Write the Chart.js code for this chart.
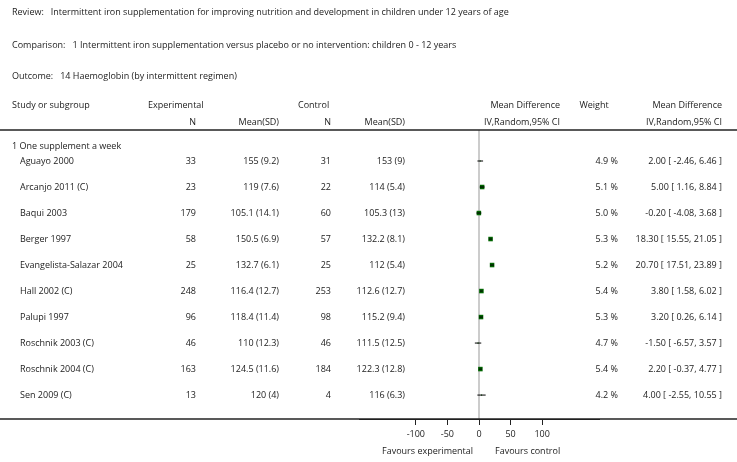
<!DOCTYPE html>
<html>
<head>
<meta charset="utf-8">
<script src="https://cdn.jsdelivr.net/npm/chart.js@4"></script>
<style>
  body { margin: 0; background: #fff; }
  #wrap { position: relative; width: 737px; height: 462px; }
</style>
</head>
<body>
<div id="wrap"><canvas id="forest" width="737" height="462"></canvas></div>
<script>
const studies = ['Aguayo 2000', 'Arcanjo 2011 (C)', 'Baqui 2003', 'Berger 1997', 'Evangelista-Salazar 2004',
    'Hall 2002 (C)', 'Palupi 1997', 'Roschnik 2003 (C)', 'Roschnik 2004 (C)', 'Sen 2009 (C)'];
const expN = [33, 23, 179, 58, 25, 248, 96, 46, 163, 13];
const expMeanSD = ['155 (9.2)', '119 (7.6)', '105.1 (14.1)', '150.5 (6.9)', '132.7 (6.1)', '116.4 (12.7)',
    '118.4 (11.4)', '110 (12.3)', '124.5 (11.6)', '120 (4)'];
const ctlN = [31, 22, 60, 57, 25, 253, 98, 46, 184, 4];
const ctlMeanSD = ['153 (9)', '114 (5.4)', '105.3 (13)', '132.2 (8.1)', '112 (5.4)', '112.6 (12.7)',
    '115.2 (9.4)', '111.5 (12.5)', '122.3 (12.8)', '116 (6.3)'];
const md = [2.00, 5.00, -0.20, 18.30, 20.70, 3.80, 3.20, -1.50, 2.20, 4.00];
const ciLow = [-2.46, 1.16, -4.08, 15.55, 17.51, 1.58, 0.26, -6.57, -0.37, -2.55];
const ciHigh = [6.46, 8.84, 3.68, 21.05, 23.89, 6.02, 6.14, 3.57, 4.77, 10.55];
const weights = [4.9, 5.1, 5.0, 5.3, 5.2, 5.4, 5.3, 4.7, 5.4, 4.2];
const xTicks = [-100, -50, 0, 50, 100];

const FONT = '"Open Sans", "DejaVu Sans", sans-serif';
const fmt = v => v.toFixed(2);

const tablePlugin = {
    id: 'table',
    afterDraw(chart) {
        const ctx = chart.ctx;
        const x = chart.scales.x, y = chart.scales.y;
        ctx.save();
        ctx.fillStyle = '#222';
        ctx.font = '9px ' + FONT;
        ctx.textBaseline = 'middle';
        const txt = (s, px, py, align) => { ctx.textAlign = align || 'left'; ctx.fillText(s, px, py); };

        txt('Review:   Intermittent iron supplementation for improving nutrition and development in children under 12 years of age', 12, 12);
        txt('Comparison:   1 Intermittent iron supplementation versus placebo or no intervention: children 0 - 12 years', 12, 45);
        txt('Outcome:   14 Haemoglobin (by intermittent regimen)', 12, 76);

        txt('Study or subgroup', 12, 105);
        txt('Experimental', 148, 105);
        txt('Control', 298, 105);
        txt('Mean Difference', 560, 105, 'right');
        txt('Weight', 594, 105, 'center');
        txt('Mean Difference', 722, 105, 'right');
        txt('N', 196, 122, 'right');
        txt('Mean(SD)', 279, 122, 'right');
        txt('N', 331, 122, 'right');
        txt('Mean(SD)', 405, 122, 'right');
        txt('IV,Random,95% CI', 560, 122, 'right');
        txt('IV,Random,95% CI', 722, 122, 'right');
        txt('1 One supplement a week', 12, 146);

        studies.forEach((s, i) => {
            const py = y.getPixelForValue(i);
            txt(s, 20, py);
            txt(String(expN[i]), 196, py, 'right');
            txt(expMeanSD[i], 279, py, 'right');
            txt(String(ctlN[i]), 331, py, 'right');
            txt(ctlMeanSD[i], 405, py, 'right');
            txt(weights[i].toFixed(1) + ' %', 618, py, 'right');
            txt(fmt(md[i]) + ' [ ' + fmt(ciLow[i]) + ', ' + fmt(ciHigh[i]) + ' ]', 722, py, 'right');
        });

        txt('Favours experimental', 382, 451);
        txt('Favours control', 495, 451);

        // rules
        ctx.strokeStyle = '#222';
        ctx.lineWidth = 1.5;
        ctx.beginPath(); ctx.moveTo(0, 130); ctx.lineTo(737, 130); ctx.stroke();
        ctx.beginPath(); ctx.moveTo(0, chart.chartArea.bottom); ctx.lineTo(737, chart.chartArea.bottom); ctx.stroke();

        // confidence intervals
        ctx.lineWidth = 1;
        ctx.strokeStyle = '#000';
        studies.forEach((s, i) => {
            const py = y.getPixelForValue(i);
            ctx.beginPath();
            ctx.moveTo(x.getPixelForValue(ciLow[i]), py);
            ctx.lineTo(x.getPixelForValue(ciHigh[i]), py);
            ctx.stroke();
        });
        ctx.restore();
    },
    beforeDatasetsDraw(chart) {
        const ctx = chart.ctx;
        const x0 = chart.scales.x.getPixelForValue(0);
        ctx.save();
        ctx.strokeStyle = '#bbb';
        ctx.lineWidth = 1.5;
        ctx.beginPath(); ctx.moveTo(x0, 130); ctx.lineTo(x0, chart.chartArea.bottom); ctx.stroke();
        ctx.restore();
    }
};

new Chart(document.getElementById('forest'), {
    type: 'scatter',
    data: {
        datasets: [{
            data: md.map((v, i) => ({ x: v, y: i })),
            pointStyle: 'rect',
            pointRadius: weights.map(w => w >= 5 ? 3.2 : 0.8),
            backgroundColor: '#006400',
            borderColor: '#006400',
            borderWidth: 0
        }]
    },
    plugins: [tablePlugin],
    options: {
        responsive: false,
        animation: false,
        layout: { padding: { left: 359, right: 138, top: 122, bottom: 0 } },
        plugins: { legend: { display: false }, tooltip: { enabled: false } },
        scales: {
            x: {
                type: 'linear',
                min: -190,
                max: 190,
                afterBuildTicks: axis => { axis.ticks = xTicks.map(v => ({ value: v })); },
                afterFit: axis => { axis.height = 43; },
                grid: { drawOnChartArea: false, tickLength: 6, color: '#222' },
                border: { display: true, color: '#222' },
                ticks: { color: '#222', font: { size: 9, family: FONT }, padding: 4 }
            },
            y: {
                type: 'linear',
                min: -1.5,
                max: 9.92,
                reverse: true,
                display: false
            }
        }
    }
});
</script>
</body>
</html>
